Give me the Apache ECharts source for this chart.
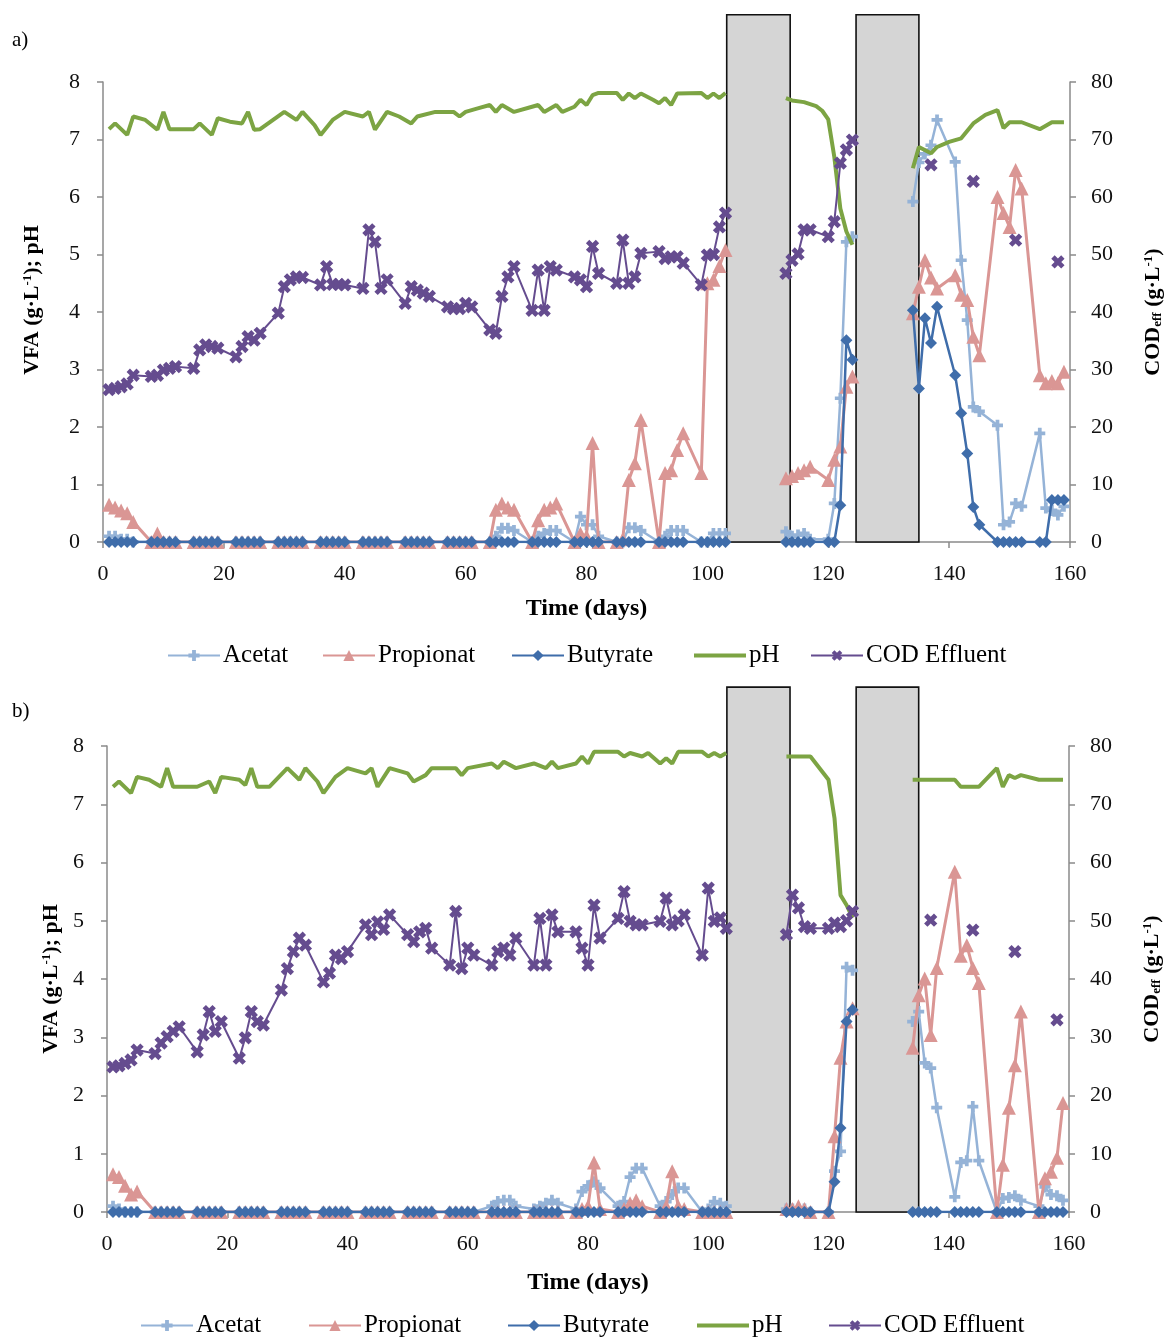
<!DOCTYPE html>
<html>
<head>
<meta charset="utf-8">
<script src="https://cdn.jsdelivr.net/npm/echarts@6/dist/echarts.min.js"></script>
<style>
html,body{margin:0;padding:0;background:#fff;}
#chart{width:1164px;height:1340px;}
</style>
</head>
<body>
<div id="chart"></div>
<script>
// Sampling days of the VFA / COD analyses (108 and 130 fall inside the shutdown periods: no data)
const sampleDays = [
  1,2,3,4,5, 8,9,10,11,12, 15,16,17,18,19, 22,23,24,25,26, 29,30,31,32,33,
  36,37,38,39,40, 43,44,45,46,47, 50,51,52,53,54, 57,58,59,60,61, 64,65,66,67,68,
  71,72,73,74,75, 78,79,80,81,82, 85,86,87,88,89, 92,93,94,95,96, 99,100,101,102,103,
  108,
  113,114,115,116,117, 120,121,122,123,124,
  130,
  134,135,136,137,138, 141,142,143,144,145, 148,149,150,151,152, 155,156,157,158,159
];

// ---------- Reactor a) ----------
const acetatA = [
  0.1,0.1,0.05,0.05,0, 0,0,0,0,0, 0,0,0,0,0, 0,0,0,0,0, 0,0,0,0,0,
  0,0,0,0,0, 0,0,0,0,0, 0,0,0,0,0, 0,0,0,0,0, 0,0.1,0.24,0.24,0.2,
  0,0.1,0.15,0.2,0.2, 0,0.44,0.3,0.3,0.1, 0,0,0.25,0.25,0.2, 0,0.1,0.2,0.2,0.2, 0,0,0.15,0.15,0.15,
  null,
  0.18,0.1,0.12,0.15,0.05, 0.05,0.67,2.5,5.22,5.31,
  null,
  5.92,6.6,6.75,6.9,7.34, 6.61,4.9,3.86,2.35,2.27, 2.03,0.3,0.35,0.67,0.62, 1.89,0.59,0.55,0.47,0.62
];
const propionatA = [
  0.65,0.6,0.55,0.5,0.35, 0,0.15,0,0,0, 0,0,0,0,0, 0,0,0,0,0, 0,0,0,0,0,
  0,0,0,0,0, 0,0,0,0,0, 0,0,0,0,0, 0,0,0,0,0, 0,0.56,0.67,0.6,0.56,
  0,0.38,0.56,0.6,0.67, 0,0.15,0.1,1.72,0, 0,0.05,1.08,1.37,2.12, 0,1.2,1.25,1.6,1.89, 1.2,4.5,4.56,4.8,5.08,
  null,
  1.11,1.15,1.2,1.25,1.31, 1.08,1.43,1.66,2.7,2.88,
  null,
  3.98,4.44,4.9,4.6,4.41, 4.64,4.3,4.21,3.57,3.25, 6.0,5.72,5.48,6.47,6.15, 2.9,2.76,2.8,2.76,2.96
];
const butyrateA = [
  0,0,0,0,0, 0,0,0,0,0, 0,0,0,0,0, 0,0,0,0,0, 0,0,0,0,0,
  0,0,0,0,0, 0,0,0,0,0, 0,0,0,0,0, 0,0,0,0,0, 0,0,0,0,0,
  0,0,0,0,0, 0,0,0,0,0, 0,0,0,0,0, 0,0,0,0,0, 0,0,0,0,0,
  null,
  0,0,0,0,0, 0,0,0.64,3.51,3.17,
  null,
  4.03,2.67,3.89,3.46,4.09, 2.9,2.24,1.54,0.61,0.3, 0,0,0,0,0, 0,0,0.73,0.73,0.73
];
const codA = [
  26.5,26.7,27.0,27.5,29.0, 28.8,29.0,29.9,30.2,30.5, 30.2,33.4,34.3,34.0,33.7, 32.2,34.0,35.7,35.1,36.3, 39.8,44.4,45.6,46.1,46.0,
  44.7,47.9,44.8,44.8,44.7, 44.1,54.3,52.2,44.1,45.6, 41.5,44.4,43.8,43.3,42.7, 40.9,40.6,40.6,41.5,40.9, 36.9,36.3,42.7,46.1,47.9,
  40.3,47.3,40.3,47.9,47.3, 46.1,45.6,44.4,51.4,46.7, 45.0,52.5,45.0,46.1,50.2, 50.5,49.3,49.6,49.6,48.5, 44.7,49.9,50.0,54.8,57.2,
  null,
  46.7,49.0,50.1,54.3,54.3, 53.1,55.7,65.9,68.2,69.9,
  null,
  null,null,null,65.6,null, null,null,null,62.7,null, null,null,null,52.5,null, null,null,null,48.7,null
];
const phDaysA = [
  1,2,4,5,7,9,10,11, 15,16,18,19,21,23,24,25,26, 30,32,33,35,36,38,40,
  43,44,45,47,49,51,52,55,58,59,60,62, 64,65,66,68,71,72,73,75,76,78,79,80,81,82,
  85,86,87,88,89,91,92,93,94,95, 99,100,101,102,103,
  108,
  113,114,116,118,119,120,121,122,123,124,
  130,
  134,135,137,138,140,142,144,146,148,149,150,152,155,157,159
];
const phA = [
  7.18,7.28,7.08,7.40,7.34,7.17,7.48,7.18, 7.18,7.28,7.08,7.37,7.31,7.28,7.48,7.17,7.18, 7.48,7.34,7.48,7.25,7.08,7.34,7.48,
  7.40,7.48,7.17,7.48,7.40,7.28,7.40,7.48,7.48,7.40,7.48,7.54, 7.60,7.48,7.60,7.48,7.57,7.60,7.48,7.60,7.48,7.57,7.69,7.60,7.77,7.81,
  7.81,7.69,7.80,7.72,7.80,7.69,7.63,7.72,7.60,7.80, 7.81,7.72,7.80,7.72,7.81,
  null,
  7.72,7.68,7.65,7.58,7.50,7.35,6.70,5.80,5.40,5.17,
  null,
  6.50,6.87,6.76,6.87,6.96,7.02,7.28,7.43,7.51,7.20,7.30,7.30,7.18,7.30,7.30
];

// ---------- Reactor b) ----------
const acetatB = [
  0.1,0.05,0,0,0, 0,0,0,0,0, 0,0,0,0,0, 0,0,0,0,0, 0,0,0,0,0,
  0,0,0,0,0, 0,0,0,0,0, 0,0,0,0,0, 0,0,0,0,0, 0.1,0.18,0.2,0.2,0.1,
  0.05,0.1,0.15,0.2,0.15, 0.05,0.35,0.45,0.52,0.41, 0.1,0.18,0.6,0.75,0.75, 0.1,0.18,0.3,0.41,0.41, 0,0.05,0.18,0.15,0.1,
  null,
  0.05,0.05,0.05,0.05,0, 0,0.7,1.04,4.2,4.15,
  null,
  3.27,3.44,2.56,2.47,1.79, 0.26,0.85,0.88,1.81,0.88, 0,0.23,0.25,0.28,0.2, 0.1,0.43,0.3,0.28,0.2
];
const propionatB = [
  0.65,0.6,0.45,0.3,0.35, 0,0,0,0,0, 0,0,0,0,0, 0,0,0,0,0, 0,0,0,0,0,
  0,0,0,0,0, 0,0,0,0,0, 0,0,0,0,0, 0,0,0,0,0, 0,0,0,0,0,
  0,0,0,0,0, 0,0.05,0.1,0.85,0.05, 0,0.05,0.15,0.2,0.1, 0,0.1,0.7,0.1,0.05, 0,0,0,0,0,
  null,
  0.05,0.05,0.1,0.05,0, 0,1.3,2.65,3.27,3.5,
  null,
  2.82,3.72,4.01,3.04,4.19, 5.84,4.4,4.58,4.19,3.93, 0,0.81,1.79,2.52,3.44, 0,0.58,0.69,0.93,1.87
];
const butyrateB = [
  0,0,0,0,0, 0,0,0,0,0, 0,0,0,0,0, 0,0,0,0,0, 0,0,0,0,0,
  0,0,0,0,0, 0,0,0,0,0, 0,0,0,0,0, 0,0,0,0,0, 0,0,0,0,0,
  0,0,0,0,0, 0,0,0,0,0, 0,0,0,0,0, 0,0,0,0,0, 0,0,0,0,0,
  null,
  0,0,0,0,0, 0,0.52,1.44,3.27,3.47,
  null,
  0,0,0,0,0, 0,0,0,0,0, 0,0,0,0,0, 0,0,0,0,0
];
const codB = [
  24.9,25.1,25.5,26.1,27.8, 27.2,29.0,30.1,31.0,31.8, 27.5,30.4,34.4,31.0,32.7, 26.4,29.9,34.4,32.7,32.1, 38.1,41.8,44.7,47.0,45.8,
  39.5,41.0,44.1,43.5,44.7, 49.3,47.6,49.8,48.5,51.0, 47.6,46.4,48.1,48.7,45.3, 42.4,51.6,41.8,45.3,44.1, 42.4,44.7,45.3,44.1,47.0,
  42.4,50.4,42.4,51.0,48.1, 48.1,45.3,42.4,52.7,47.0, 50.4,55.0,49.9,49.3,49.3, 49.9,53.9,49.3,50.0,51.0, 44.1,55.6,49.9,50.5,48.7,
  null,
  47.6,54.4,52.2,49.0,48.7, 48.7,49.6,49.0,50.0,51.6,
  null,
  null,null,null,50.1,null, null,null,null,48.4,null, null,null,null,44.7,null, null,null,null,33.0,null
];
const phDaysB = [
  1,2,4,5,7,9,10,11, 15,17,18,19,22,23,24,25,27, 30,32,33,35,36,38,40,
  43,44,45,47,50,51,53,54,58,59,60, 64,65,66,68,71,73,74,75,78,79,80,81,
  85,86,87,89,90,92,93,94,95, 99,100,101,102,103,
  108,
  113,115,117,120,121,122,123,124,
  130,
  134,141,142,145,148,149,150,151,152,155,159
];
const phB = [
  7.30,7.39,7.19,7.47,7.42,7.30,7.62,7.30, 7.30,7.39,7.19,7.47,7.42,7.33,7.62,7.30,7.30, 7.62,7.42,7.62,7.39,7.19,7.47,7.62,
  7.53,7.62,7.30,7.62,7.53,7.39,7.50,7.62,7.62,7.50,7.62, 7.70,7.62,7.73,7.62,7.70,7.62,7.73,7.62,7.70,7.82,7.70,7.90,
  7.90,7.82,7.88,7.82,7.88,7.70,7.79,7.70,7.90, 7.90,7.82,7.88,7.82,7.88,
  null,
  7.82,7.82,7.82,7.42,6.76,5.44,5.27,5.05,
  null,
  7.42,7.42,7.30,7.30,7.62,7.30,7.50,7.45,7.50,7.42,7.42
];

// Reactor shutdown periods [start day, end day]; shaded boxes reach above the plot (VFA units)
const shutdownA = [[103.2, 113.7], [124.6, 135.0]];
const shutdownB = [[103.1, 113.6], [124.6, 135.0]];
const boxTopA = 9.17;
const boxTopB = 9.01;

const xTicks = { min: 0, max: 160, step: 20 };
const vfaTicks = { min: 0, max: 8, step: 1 };
const codTicks = { min: 0, max: 80, step: 10 };

const SERIF = "'Liberation Serif','DejaVu Serif',serif";
const AXIS = '#8a8a8a';
const COL = { acetat: '#95B3D7', propionat: '#DA9694', butyrate: '#3F6DAA', ph: '#7CA443', cod: '#654C8F' };
const PLUS = 'path://M3.3,0H6.7V3.3H10V6.7H6.7V10H3.3V6.7H0V3.3H3.3Z';
const NAMES = ['Acetat', 'Propionat', 'Butyrate', 'pH', 'COD Effluent'];

const pts = (days, vals) => days.map((d, i) => [d, vals[i] === null ? '-' : vals[i]]);

function boxRender(params, api) {
  const a = api.coord([api.value(0), 0]);
  const b = api.coord([api.value(1), api.value(2)]);
  return {
    type: 'rect',
    shape: { x: a[0], y: b[1], width: b[0] - a[0], height: a[1] - b[1] },
    style: { fill: '#D5D5D5', stroke: '#111', lineWidth: 1.6 }
  };
}

function panelSeries(g, d) {
  const base = { xAxisIndex: g, animation: false, emphasis: { disabled: true }, connectNulls: false };
  return [
    { type: 'custom', name: 'shutdown', xAxisIndex: g, yAxisIndex: 2 * g, clip: false, z: 1, silent: true,
      animation: false, renderItem: boxRender, encode: { x: [0, 1], y: 2 },
      data: d.boxes.map(p => [p[0], p[1], d.boxTop]) },
    Object.assign({}, base, { type: 'line', name: 'Acetat', yAxisIndex: 2 * g, z: 3,
      data: pts(sampleDays, d.acetat), symbol: PLUS, symbolSize: 11,
      lineStyle: { color: COL.acetat, width: 2.5 }, itemStyle: { color: COL.acetat } }),
    Object.assign({}, base, { type: 'line', name: 'Propionat', yAxisIndex: 2 * g, z: 4,
      data: pts(sampleDays, d.propionat), symbol: 'triangle', symbolSize: 14,
      lineStyle: { color: COL.propionat, width: 3 }, itemStyle: { color: COL.propionat } }),
    Object.assign({}, base, { type: 'line', name: 'Butyrate', yAxisIndex: 2 * g, z: 5,
      data: pts(sampleDays, d.butyrate), symbol: 'diamond', symbolSize: 12,
      lineStyle: { color: COL.butyrate, width: 2.5 }, itemStyle: { color: COL.butyrate } }),
    Object.assign({}, base, { type: 'line', name: 'pH', yAxisIndex: 2 * g, z: 6,
      data: pts(d.phDays, d.ph), symbol: 'none', showSymbol: false,
      lineStyle: { color: COL.ph, width: 4 }, itemStyle: { color: COL.ph } }),
    Object.assign({}, base, { type: 'line', name: 'COD Effluent', yAxisIndex: 2 * g + 1, z: 7,
      data: pts(sampleDays, d.cod), symbol: PLUS, symbolRotate: 45, symbolSize: 14,
      lineStyle: { color: COL.cod, width: 2 }, itemStyle: { color: COL.cod } })
  ];
}

function xAxisFor(g, labelMargin, nameGap) {
  return {
    gridIndex: g, type: 'value', min: xTicks.min, max: xTicks.max, interval: xTicks.step,
    axisLine: { show: true, onZero: false, lineStyle: { color: AXIS, width: 1.5 } },
    axisTick: { show: true, inside: false, length: 6, lineStyle: { color: AXIS, width: 1.5 } },
    axisLabel: { fontFamily: SERIF, fontSize: 22, color: '#111', margin: labelMargin, showMinLabel: true, showMaxLabel: true },
    splitLine: { show: false },
    name: 'Time (days)', nameLocation: 'middle', nameGap: nameGap,
    nameTextStyle: { fontFamily: SERIF, fontSize: 24, fontWeight: 'bold', color: '#000' }
  };
}

const richName = {
  t: { fontFamily: SERIF, fontSize: 22, fontWeight: 'bold', color: '#000' },
  s: { fontFamily: SERIF, fontSize: 13, fontWeight: 'bold', color: '#000', verticalAlign: 'top' },
  u: { fontFamily: SERIF, fontSize: 13, fontWeight: 'bold', color: '#000', verticalAlign: 'bottom' }
};

function yLeft(g, nameGap, namePad) {
  return {
    gridIndex: g, type: 'value', position: 'left', min: vfaTicks.min, max: vfaTicks.max, interval: vfaTicks.step,
    axisLine: { show: true, lineStyle: { color: AXIS, width: 1.5 } },
    axisTick: { show: true, inside: false, length: 6, lineStyle: { color: AXIS, width: 1.5 } },
    axisLabel: { fontFamily: SERIF, fontSize: 22, color: '#111', margin: 23, showMinLabel: true, showMaxLabel: true },
    splitLine: { show: false },
    name: '{t|VFA (g·L}{s|-1}{t|); pH}', nameLocation: 'middle', nameRotate: 90, nameGap: nameGap,
    nameTextStyle: { rich: richName, padding: namePad }
  };
}

function yRight(g, nameGap) {
  return {
    gridIndex: g, type: 'value', position: 'right', min: codTicks.min, max: codTicks.max, interval: codTicks.step,
    axisLine: { show: true, lineStyle: { color: AXIS, width: 1.5 } },
    axisTick: { show: true, inside: false, length: 6, lineStyle: { color: AXIS, width: 1.5 } },
    axisLabel: { fontFamily: SERIF, fontSize: 22, color: '#111', margin: 21, showMinLabel: true, showMaxLabel: true },
    splitLine: { show: false },
    name: '{t|COD}{u|eff}{t| (g·L}{s|-1}{t|)}', nameLocation: 'middle', nameRotate: 90, nameGap: nameGap,
    nameTextStyle: { rich: richName }
  };
}

// One legend per entry so each sits at its own place under the plot
function legendsFor(top, lefts) {
  return NAMES.map((n, i) => {
    const lineOnly = n === 'pH';
    return {
      data: lineOnly ? [{ name: n, icon: 'rect' }] : [n],
      left: lefts[i], top: top, padding: 0,
      itemWidth: 52, itemHeight: lineOnly ? 4 : 14, itemGap: 0,
      textStyle: { fontFamily: SERIF, fontSize: 25, color: '#000', padding: [0, 0, 0, -2] },
      selectedMode: false
    };
  });
}

const chart = echarts.init(document.getElementById('chart'), null, { renderer: 'canvas' });
chart.setOption({
  backgroundColor: '#fff',
  animation: false,
  grid: [
    { left: 103, top: 82, width: 967, height: 460, containLabel: false, outerBoundsMode: 'none' },
    { left: 107, top: 746, width: 962, height: 466, containLabel: false, outerBoundsMode: 'none' }
  ],
  xAxis: [xAxisFor(0, 21, 55), xAxisFor(1, 21, 59)],
  yAxis: [yLeft(0, 60, [0, 0, 0, 24]), yRight(0, 72), yLeft(1, 42, 0), yRight(1, 72)],
  legend: legendsFor(643, [167, 322, 511, 694, 810]).concat(legendsFor(1313, [140, 308, 507, 697, 828])),
  graphic: [
    { type: 'text', left: 12, top: 30, style: { text: 'a)', fontFamily: SERIF, fontSize: 21, fill: '#000' } },
    { type: 'text', left: 12, top: 701, style: { text: 'b)', fontFamily: SERIF, fontSize: 21, fill: '#000' } }
  ],
  series: [].concat(
    panelSeries(0, { boxes: shutdownA, boxTop: boxTopA, acetat: acetatA, propionat: propionatA,
      butyrate: butyrateA, cod: codA, phDays: phDaysA, ph: phA }),
    panelSeries(1, { boxes: shutdownB, boxTop: boxTopB, acetat: acetatB, propionat: propionatB,
      butyrate: butyrateB, cod: codB, phDays: phDaysB, ph: phB })
  )
});
</script>
</body>
</html>
